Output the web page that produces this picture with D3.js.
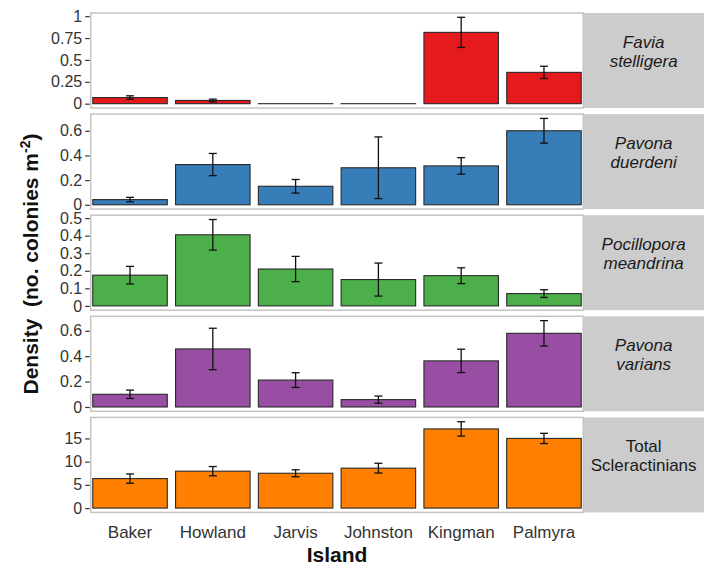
<!DOCTYPE html>
<html>
<head>
<meta charset="utf-8">
<script src="https://cdn.jsdelivr.net/npm/d3@7"></script>
<style>
  html, body { margin: 0; padding: 0; background: #fff; }
  svg { display: block; font-family: "Liberation Sans", Arial, sans-serif; }
</style>
</head>
<body>
<svg id="chart" width="711" height="567"></svg>
<script>
// ---- data ----
const islands = ["Baker", "Howland", "Jarvis", "Johnston", "Kingman", "Palmyra"];

const faviaMean = [0.07, 0.037, 0, 0, 0.815, 0.358];
const faviaSE   = [0.02, 0.015, null, null, 0.172, 0.07];

const duerdeniMean = [0.042, 0.326, 0.15, 0.30, 0.315, 0.60];
const duerdeniSE   = [0.018, 0.09, 0.055, 0.25, 0.067, 0.10];

const pocilloporaMean = [0.175, 0.405, 0.21, 0.15, 0.172, 0.07];
const pocilloporaSE   = [0.05, 0.087, 0.072, 0.094, 0.045, 0.022];

const variansMean = [0.10, 0.457, 0.212, 0.058, 0.363, 0.58];
const variansSE   = [0.033, 0.163, 0.058, 0.028, 0.092, 0.10];

const totalMean = [6.35, 7.95, 7.5, 8.6, 17.05, 15.0];
const totalSE   = [1.0, 1.0, 0.75, 1.05, 1.55, 1.1];

const faviaTicks = [0, 0.25, 0.5, 0.75, 1];
const duerdeniTicks = [0, 0.2, 0.4, 0.6];
const pocilloporaTicks = [0, 0.1, 0.2, 0.3, 0.4, 0.5];
const variansTicks = [0, 0.2, 0.4, 0.6];
const totalTicks = [0, 5, 10, 15];

const stripLabels = [
  ["Favia", "stelligera"],
  ["Pavona", "duerdeni"],
  ["Pocillopora", "meandrina"],
  ["Pavona", "varians"],
  ["Total", "Scleractinians"]
];
const stripItalic = [true, true, true, true, false];
const colors = ["#E41A1C", "#377EB8", "#4DAF4A", "#984EA3", "#FF7F00"];

const panels = [
  { mean: faviaMean, se: faviaSE, ticks: faviaTicks },
  { mean: duerdeniMean, se: duerdeniSE, ticks: duerdeniTicks },
  { mean: pocilloporaMean, se: pocilloporaSE, ticks: pocilloporaTicks },
  { mean: variansMean, se: variansSE, ticks: variansTicks },
  { mean: totalMean, se: totalSE, ticks: totalTicks }
];

// ---- layout ----
const svg = d3.select("#chart");
const plotLeft = 90.7, plotRight = 583.3, stripRight = 704;
const top0 = 13, panelH = 95, panelStep = 101.1;

const x = d3.scaleBand()
  .domain(islands)
  .range([plotLeft, plotRight])
  .paddingInner(0.1)
  .paddingOuter(0.025);

panels.forEach((p, i) => {
  const y0 = top0 + i * panelStep;
  const y1 = y0 + panelH;
  const hi = d3.max(p.mean.map((m, k) => m + (p.se[k] || 0)));
  const R = hi;
  const y = d3.scaleLinear().domain([-0.05 * R, hi + 0.05 * R]).range([y1, y0]);

  const g = svg.append("g");

  // panel background
  g.append("rect")
    .attr("x", plotLeft).attr("y", y0)
    .attr("width", plotRight - plotLeft).attr("height", panelH)
    .attr("fill", "#fff");

  // strip
  g.append("rect")
    .attr("x", plotRight).attr("y", y0)
    .attr("width", stripRight - plotRight).attr("height", panelH)
    .attr("fill", "#CCCCCC");

  const cx = (plotRight + stripRight) / 2;
  const cy = y0 + panelH / 2 - 9;
  const st = g.append("text")
    .attr("x", cx).attr("y", cy)
    .attr("text-anchor", "middle")
    .attr("font-size", 17)
    .attr("font-style", stripItalic[i] ? "italic" : "normal")
    .attr("fill", "#1a1a1a");
  stripLabels[i].forEach((t, j) => {
    st.append("tspan")
      .attr("x", cx)
      .attr("y", cy + (j === 0 ? -9.5 : 9.5))
      .attr("dy", "0.35em")
      .text(t);
  });

  // bars
  const data = islands.map((isl, k) => ({ isl, m: p.mean[k], se: p.se[k] }));
  g.selectAll("rect.bar").data(data).enter().append("rect")
    .attr("class", "bar")
    .attr("x", d => x(d.isl))
    .attr("width", x.bandwidth())
    .attr("y", d => y(d.m))
    .attr("height", d => Math.max(y(0) - y(d.m), 0.01))
    .attr("fill", colors[i])
    .attr("stroke", "#2a2a2a")
    .attr("stroke-width", 1.1);

  // error bars
  const eb = data.filter(d => d.se != null);
  const capW = 8;
  const ebg = g.selectAll("g.eb").data(eb).enter().append("g")
    .attr("stroke", "#111").attr("stroke-width", 1.3);
  ebg.append("line")
    .attr("x1", d => x(d.isl) + x.bandwidth() / 2)
    .attr("x2", d => x(d.isl) + x.bandwidth() / 2)
    .attr("y1", d => y(d.m + d.se))
    .attr("y2", d => y(d.m - d.se));
  ebg.append("line")
    .attr("x1", d => x(d.isl) + x.bandwidth() / 2 - capW / 2)
    .attr("x2", d => x(d.isl) + x.bandwidth() / 2 + capW / 2)
    .attr("y1", d => y(d.m + d.se)).attr("y2", d => y(d.m + d.se));
  ebg.append("line")
    .attr("x1", d => x(d.isl) + x.bandwidth() / 2 - capW / 2)
    .attr("x2", d => x(d.isl) + x.bandwidth() / 2 + capW / 2)
    .attr("y1", d => y(d.m - d.se)).attr("y2", d => y(d.m - d.se));

  // panel border
  g.append("rect")
    .attr("x", plotLeft).attr("y", y0)
    .attr("width", plotRight - plotLeft).attr("height", panelH)
    .attr("fill", "none")
    .attr("stroke", "#c4c4c4")
    .attr("stroke-width", 1.5);

  // y axis
  const ax = g.append("g")
    .attr("transform", `translate(${plotLeft - 1},0)`)
    .call(d3.axisLeft(y).tickValues(p.ticks).tickSize(4.5).tickPadding(3)
      .tickFormat(d3.format("~g")));
  ax.select(".domain").remove();
  ax.selectAll(".tick line").attr("stroke", "#333").attr("stroke-width", 1.2);
  ax.selectAll(".tick text")
    .attr("font-size", 16)
    .attr("font-family", "Liberation Sans, Arial, sans-serif")
    .attr("fill", "#333");
});

// x axis labels (bottom panel)
const bottom = top0 + 4 * panelStep + panelH;
const xa = svg.append("g")
  .attr("transform", `translate(0,${bottom})`)
  .call(d3.axisBottom(x).tickSize(0).tickPadding(14));
xa.select(".domain").remove();
xa.selectAll(".tick text")
  .attr("font-size", 17)
  .attr("font-family", "Liberation Sans, Arial, sans-serif")
  .attr("fill", "#333");

// axis titles
svg.append("text")
  .attr("x", (plotLeft + plotRight) / 2)
  .attr("y", 562)
  .attr("text-anchor", "middle")
  .attr("font-size", 21)
  .attr("font-weight", "bold")
  .attr("fill", "#111")
  .text("Island");

const yt = svg.append("text")
  .attr("transform", "translate(37.5,264) rotate(-90)")
  .attr("text-anchor", "middle")
  .attr("font-size", 21)
  .attr("font-weight", "bold")
  .attr("fill", "#111")
  .style("white-space", "pre");
yt.append("tspan").text("Density  (no. colonies m");
yt.append("tspan").attr("font-size", 14).attr("dy", -8).text("-2");
yt.append("tspan").attr("dy", 8).text(")");
</script>
</body>
</html>
